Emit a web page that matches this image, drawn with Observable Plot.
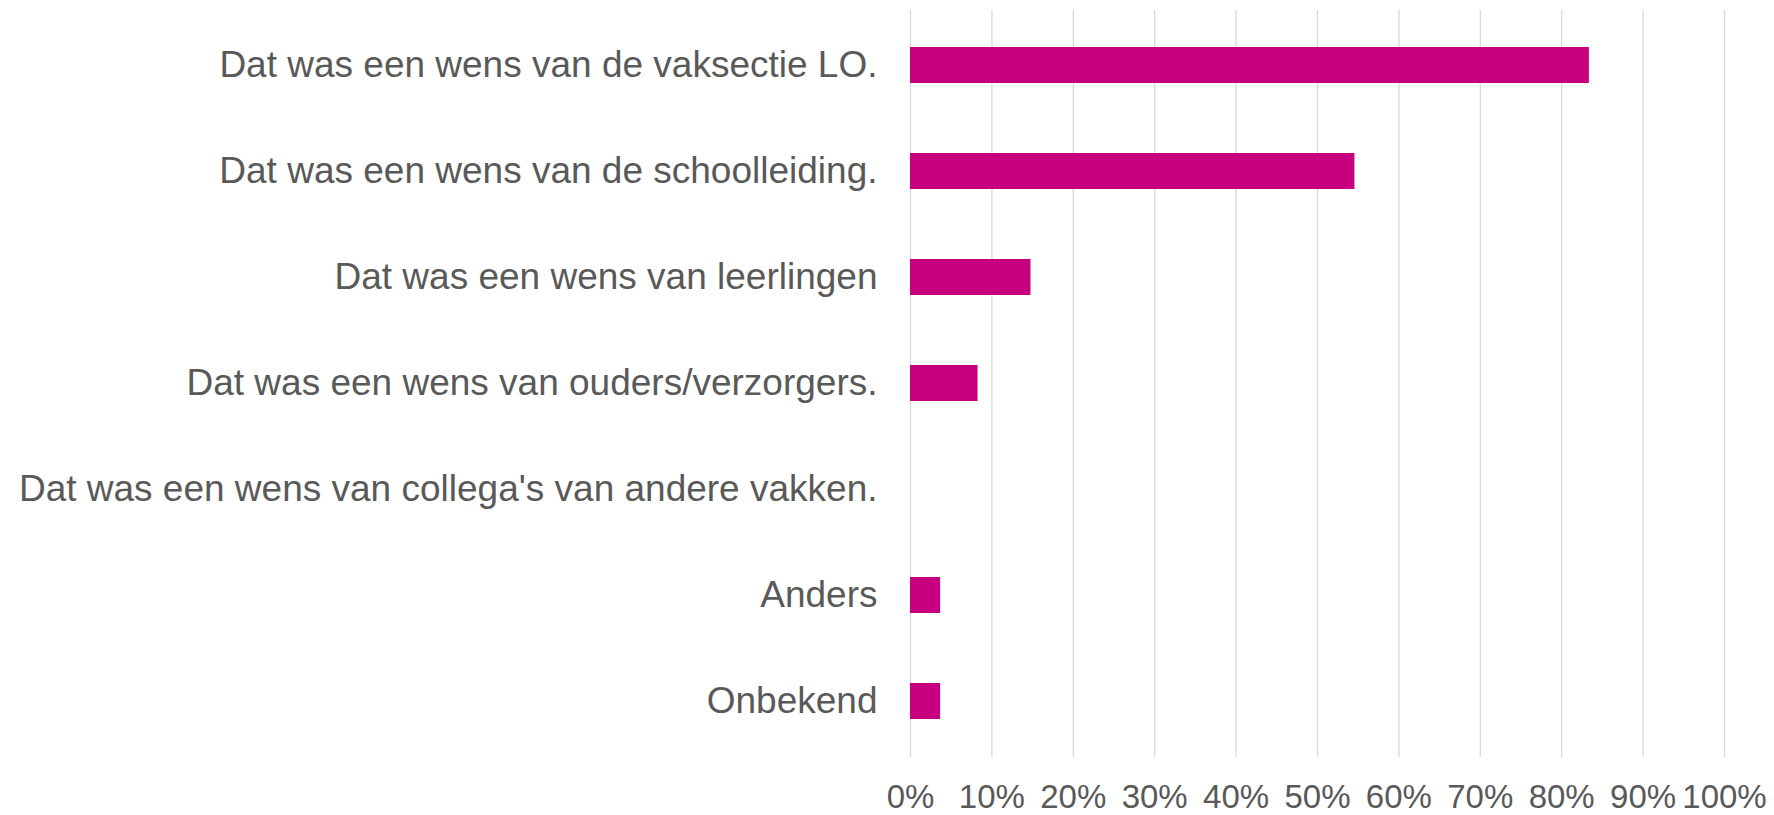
<!DOCTYPE html>
<html>
<head>
<meta charset="utf-8">
<script src="https://cdn.jsdelivr.net/npm/d3@7"></script>
<script src="https://cdn.jsdelivr.net/npm/@observablehq/plot@0.6"></script>
<style>
  html, body { margin: 0; padding: 0; background: #ffffff; }
  #chart svg { display: block; }
</style>
</head>
<body>
<div id="chart"></div>
<script>
const categories = [
  "Dat was een wens van de vaksectie LO.",
  "Dat was een wens van de schoolleiding.",
  "Dat was een wens van leerlingen",
  "Dat was een wens van ouders/verzorgers.",
  "Dat was een wens van collega's van andere vakken.",
  "Anders",
  "Onbekend"
];
const values = [0.834, 0.546, 0.148, 0.083, 0, 0.037, 0.037];
const xTicks = [0, 0.1, 0.2, 0.3, 0.4, 0.5, 0.6, 0.7, 0.8, 0.9, 1.0];

const data = categories.map((c, i) => ({category: c, value: values[i]}));

const chart = Plot.plot({
  width: 1774,
  height: 815,
  marginLeft: 910,
  marginRight: 50,
  marginTop: 10,
  marginBottom: 58,
  style: {fontFamily: "'Liberation Sans', Arial, sans-serif", color: "#595959", background: "#ffffff"},
  x: {domain: [0, 1], ticks: xTicks, tickFormat: d3.format(".0%"), tickSize: 0, tickPadding: 27, label: null},
  y: {domain: categories, paddingInner: 0.66, paddingOuter: 0.33, tickSize: 0, tickPadding: 33, label: null},
  marks: [
    Plot.ruleX(xTicks, {stroke: "#d9d9d9", strokeWidth: 1.3}),
    Plot.barX(data, {x: "value", y: "category", fill: "#c6007e"}),
    Plot.axisY({tickSize: 0, tickPadding: 33, fontSize: 37, fill: "#595959", label: null}),
    Plot.axisX({ticks: xTicks, tickFormat: d3.format(".0%"), tickSize: 0, tickPadding: 27, fontSize: 33, fill: "#595959", label: null})
  ]
});
document.getElementById("chart").appendChild(chart);
</script>
</body>
</html>
